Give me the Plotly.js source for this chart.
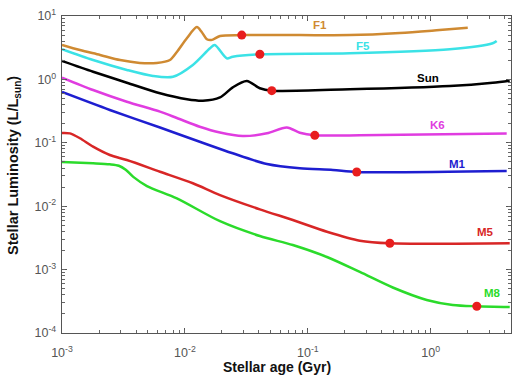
<!DOCTYPE html>
<html>
<head>
<meta charset="utf-8">
<script src="https://cdn.plot.ly/plotly-3.0.1.min.js"></script>
<style>html,body{margin:0;padding:0;background:#fff;}#chart{width:520px;height:379px;}</style>
</head>
<body>
<div id="chart"></div>
<script>
// Stellar age (Gyr) and luminosity (L/Lsun)
const f1Age = [0.001,0.0014,0.00204,0.00297,0.0043,0.0059,0.00755,0.0086,0.0104,0.0125,0.0137,0.0151,0.0166,0.0193,0.029,0.086,0.22,0.56,1.18,2.0];
const f1Lum = [3.5,2.9,2.43,2.02,1.82,1.82,2.02,2.7,4.5,6.7,5.6,4.3,4.2,4.85,5.0,5.0,5.0,5.4,6.0,6.5];

const f5Age = [0.001,0.00179,0.00337,0.0055,0.008,0.0116,0.016,0.0175,0.0219,0.0245,0.0407,0.219,1.43,3.19,3.44];
const f5Lum = [3.0,2.02,1.41,1.13,1.10,1.69,3.1,3.49,2.15,2.28,2.49,2.58,2.98,3.71,4.04];

const sunAge = [0.001,0.00179,0.00337,0.00627,0.0104,0.014,0.0193,0.0245,0.0319,0.0407,0.0509,0.219,1.43,3.19,4.39];
const sunLum = [1.95,1.32,0.887,0.604,0.486,0.461,0.52,0.75,0.944,0.724,0.664,0.698,0.787,0.887,0.955];

const k6Age = [0.001,0.00179,0.00337,0.00627,0.0086,0.0132,0.0193,0.0296,0.0465,0.0675,0.086,0.114,0.265,4.15];
const k6Lum = [1.07,0.681,0.445,0.31,0.246,0.179,0.145,0.128,0.141,0.175,0.144,0.131,0.132,0.14];

const m1Age = [0.001,0.00245,0.00627,0.0132,0.0245,0.0465,0.086,0.16,0.25,4.15];
const m1Lum = [0.632,0.329,0.174,0.104,0.0683,0.0463,0.0396,0.0373,0.0346,0.0359];

const m5Age = [0.001,0.00116,0.0014,0.00179,0.00245,0.00337,0.00627,0.0116,0.0193,0.0407,0.0755,0.143,0.265,0.465,4.39];
const m5Lum = [0.143,0.141,0.118,0.0868,0.0642,0.0535,0.035,0.023,0.015,0.00893,0.00605,0.00396,0.00286,0.0026,0.0026];

const m8Age = [0.001,0.00179,0.00245,0.0029,0.0033,0.0038,0.00491,0.0086,0.0193,0.0407,0.0755,0.143,0.265,0.491,0.927,1.51,2.37,4.39];
const m8Lum = [0.0498,0.0475,0.0458,0.0435,0.0375,0.029,0.0208,0.0133,0.0058,0.00339,0.00244,0.00158,0.000917,0.000522,0.000332,0.000277,0.000264,0.000257];

// red markers
const dotAge = [0.029,0.0407,0.0509,0.114,0.25,0.465,2.37];
const dotLum = [5.0,2.49,0.664,0.131,0.0346,0.0026,0.000264];

// curve labels
const labelText = ['F1','F5','Sun','K6','M1','M5','M8'];
const labelAge = [0.125,0.28,0.946,1.14,1.66,2.8,3.19];
const labelLum = [7.2,3.36,1.05,0.191,0.0463,0.00392,0.000428];
const colors = ['#CF8A32','#3BE2E6','#000000','#E03CE0','#1E1ED0','#D82626','#2BDB2B'];

// tick labels
const xTickVals = [0.001,0.01,0.1,1];
const xTickText = ['10<sup>-3</sup>','10<sup>-2</sup>','10<sup>-1</sup>','10<sup>0</sup>'];
const yTickVals = [0.0001,0.001,0.01,0.1,1,10];
const yTickText = ['10<sup>-4</sup>','10<sup>-3</sup>','10<sup>-2</sup>','10<sup>-1</sup>','10<sup>0</sup>','10<sup>1</sup>'];

const series = [[f1Age,f1Lum],[f5Age,f5Lum],[sunAge,sunLum],[k6Age,k6Lum],[m1Age,m1Lum],[m5Age,m5Lum],[m8Age,m8Lum]];
const traces = series.map((s,i)=>({
  x:s[0], y:s[1], type:'scatter', mode:'lines',
  line:{color:colors[i], width:2.5, shape:'spline', smoothing:0.8},
  showlegend:false, hoverinfo:'skip'
}));
traces.push({x:dotAge, y:dotLum, type:'scatter', mode:'markers',
  marker:{color:'#E81E1E', size:9}, showlegend:false});
// empty trace on the overlay axes that carry the minor ticks
traces.push({x:[], y:[], xaxis:'x2', yaxis:'y2', type:'scatter', mode:'markers', showlegend:false});

const FONT = 'Liberation Sans, Arial, sans-serif';
const annotations = labelText.map((t,i)=>({
  x:Math.log10(labelAge[i]), y:Math.log10(labelLum[i]), xref:'x', yref:'y',
  text:'<b>'+t+'</b>', showarrow:false,
  font:{family:FONT, size:11.5, color:colors[i]}
}));
annotations.push({
  xref:'paper', yref:'paper', x:(277-62)/449, y:-0.107, yanchor:'middle', xanchor:'center',
  text:'<b>Stellar age (Gyr)</b>', showarrow:false, font:{family:FONT, size:14, color:'#111'}
});
annotations.push({
  xref:'paper', yref:'paper', x:-0.107, xanchor:'center', y:0.53, yanchor:'middle', textangle:-90,
  text:'<b>Stellar Luminosity (L/L<sub>sun</sub>)</b>', showarrow:false, font:{family:FONT, size:14.5, color:'#111'}
});

const axisCommon = {
  type:'log', showline:true, linecolor:'#555', linewidth:1.3, mirror:'ticks',
  ticks:'inside', ticklen:5, tickcolor:'#555', showgrid:false, zeroline:false,
  tickfont:{family:FONT, size:12.5, color:'#555'}
};
const minorCommon = {
  type:'log', showline:false, mirror:'ticks', ticks:'inside', ticklen:3, tickcolor:'#666',
  showgrid:false, zeroline:false, showticklabels:false, dtick:'D1'
};

const layout = {
  width:520, height:379,
  margin:{l:62, r:9, t:16, b:46},
  paper_bgcolor:'#fff', plot_bgcolor:'#fff',
  xaxis:Object.assign({}, axisCommon, {
    range:[-3, 0.653], tickmode:'array', tickvals:xTickVals, ticktext:xTickText,
    ticklabelstandoff:8
  }),
  yaxis:Object.assign({}, axisCommon, {
    range:[-4, 1], tickmode:'array', tickvals:yTickVals, ticktext:yTickText,
    ticklabelstandoff:2
  }),
  xaxis2:Object.assign({}, minorCommon, {range:[-3, 0.653], overlaying:'x', anchor:'y2', side:'bottom'}),
  yaxis2:Object.assign({}, minorCommon, {range:[-4, 1], overlaying:'y', anchor:'x2', side:'left'}),
  annotations:annotations
};

Plotly.newPlot('chart', traces, layout, {displayModeBar:false, staticPlot:true});
</script>
</body>
</html>
